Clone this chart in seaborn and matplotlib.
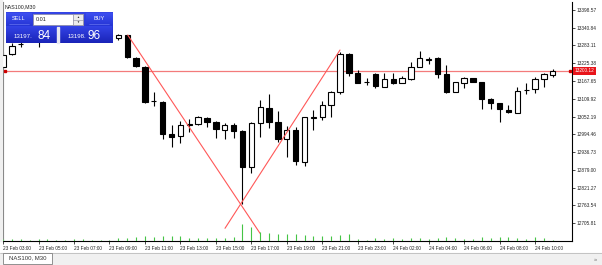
import matplotlib
matplotlib.use("Agg")
import matplotlib.pyplot as plt
import matplotlib.transforms as mtransforms
import seaborn as sns
import numpy as np
import pandas as pd
from matplotlib.patches import Rectangle
from matplotlib.colors import LinearSegmentedColormap

# ---------------- data ----------------
symbol = "NAS100,M30"
tab_label = "NAS100, M30"
bid_price = 13200.12
sell_int, sell_dec = "13197.", "84"
buy_int, buy_dec = "13198.", "96"
lot = "0.01"

opens = [13212.7, 13254.9, 13286.0, 13300.3, 13306.8, 13313.0, 13322.0, 13330.0, 13325.0, 13318.0,
         13328.0, 13322.0, 13316.0, 13305.2, 13316.5, 13242.9, 13213.7, 13102.5, 13100.2, 12994.5,
         12988.9, 13026.0, 13027.9, 13046.4, 13035.3, 13008.4, 13025.6, 13006.1, 12886.8, 13032.7,
         13079.1, 13035.0, 12978.3, 13008.4, 12905.6, 13048.0, 13049.6, 13090.5, 13132.6, 13254.9,
         13194.3, 13164.5, 13189.1, 13148.9, 13174.8, 13161.8, 13172.9, 13213.7, 13237.0, 13241.0,
         13189.1, 13132.6, 13161.8, 13176.1, 13165.1, 13108.0, 13095.0, 13073.3, 13064.5, 13138.6,
         13140.4, 13173.8, 13186.8]
highs = [13261.4, 13290.6, 13300.3, 13316.5, 13326.3, 13330.0, 13338.0, 13345.0, 13335.0, 13332.0,
         13340.0, 13333.0, 13326.0, 13319.8, 13318.1, 13246.1, 13216.0, 13132.6, 13103.4, 13024.6,
         13038.6, 13043.1, 13053.8, 13049.6, 13038.6, 13030.1, 13030.1, 13008.4, 13035.3, 13105.7,
         13125.2, 13069.1, 13021.4, 13019.1, 13051.5, 13071.7, 13102.5, 13134.9, 13262.4, 13259.1,
         13203.0, 13176.1, 13194.3, 13194.3, 13194.3, 13183.6, 13229.9, 13265.6, 13244.2, 13244.2,
         13219.2, 13165.1, 13181.3, 13178.0, 13165.1, 13111.2, 13097.0, 13089.5, 13148.9, 13161.8,
         13181.3, 13192.3, 13205.3]
lows = [13206.3, 13251.7, 13279.2, 13293.8, 13277.6, 13300.0, 13312.0, 13320.0, 13310.0, 13308.0,
        13318.0, 13312.0, 13305.0, 13301.9, 13241.0, 13211.8, 13096.9, 13086.3, 12978.3, 12952.3,
        12965.3, 13002.9, 13024.6, 13019.1, 12981.5, 12978.3, 12981.5, 12768.4, 12869.9, 12985.7,
        13016.5, 12969.5, 12921.8, 12894.9, 12891.7, 13008.4, 13040.8, 13050.6, 13125.2, 13184.5,
        13159.9, 13154.4, 13143.7, 13146.9, 13157.6, 13159.9, 13170.6, 13211.8, 13221.5, 13178.0,
        13129.4, 13130.7, 13143.7, 13163.1, 13076.5, 13075.6, 13035.3, 13062.6, 13062.6, 13125.2,
        13127.4, 13146.9, 13179.3]
closes = [13251.7, 13281.8, 13288.0, 13306.8, 13313.3, 13322.0, 13330.0, 13325.0, 13318.0, 13328.0,
          13322.0, 13316.0, 13312.0, 13316.5, 13244.2, 13216.0, 13100.2, 13101.5, 12995.4, 12986.7,
          13024.6, 13027.9, 13050.6, 13033.4, 13010.7, 13025.6, 13006.1, 12889.4, 13032.1, 13082.0,
          13033.7, 12979.2, 13009.4, 12907.9, 13049.6, 13050.0, 13090.5, 13132.6, 13254.9, 13192.3,
          13161.8, 13165.5, 13151.1, 13172.9, 13161.8, 13176.1, 13213.7, 13241.0, 13238.5, 13189.1,
          13132.6, 13163.1, 13176.1, 13165.1, 13108.0, 13097.0, 13075.6, 13067.8, 13135.9, 13137.6,
          13172.9, 13189.1, 13200.12]
volumes = [240, 280, 200, 160, 240, 200, 160, 160, 240, 200,
           160, 160, 160, 400, 400, 480, 560, 520, 600, 600,
           560, 400, 320, 400, 400, 400, 480, 2080, 1680, 1080,
           960, 800, 800, 800, 680, 640, 640, 640, 720, 800,
           200, 160, 320, 240, 320, 280, 400, 400, 280, 360,
           440, 360, 280, 200, 440, 320, 440, 440, 360, 280,
           480, 360, 160]

x_tick_labels = ["23 Feb 03:00", "23 Feb 05:00", "23 Feb 07:00", "23 Feb 09:00", "23 Feb 11:00",
                 "23 Feb 13:00", "23 Feb 15:00", "23 Feb 17:00", "23 Feb 19:00", "23 Feb 21:00",
                 "23 Feb 23:00", "24 Feb 02:00", "24 Feb 04:00", "24 Feb 06:00", "24 Feb 08:00",
                 "24 Feb 10:00"]
price_ticks = [12705.81, 12763.54, 12821.27, 12879.00, 12936.73, 12994.46, 13052.19,
               13109.92, 13167.65, 13225.38, 13283.11, 13340.84, 13398.57]

trend1_x = [14.06, 28.98]
trend1_y = [13316.5, 12673.4]
trend2_x = [25.03, 38.0]
trend2_y = [12689.6, 13267.8]

# ---------------- style ----------------
sns.set_theme(style="white")
plt.rcParams['font.family'] = ['Liberation Sans', 'DejaVu Sans']

W, H = 602, 265
fig = plt.figure(figsize=(W / 100, H / 100), dpi=100)
fig.patch.set_facecolor('white')
ax = fig.add_axes([3 / W, 24 / H, 569 / W, 239 / H])
ax.set_facecolor('white')

n = len(opens)
df = pd.DataFrame(dict(i=np.arange(n), o=opens, h=highs, l=lows, c=closes, v=volumes))

# volumes (own scale at the bottom)
axv = ax.twinx()
axv.vlines(df.i, 0, df.v, color='#45c445', lw=0.8)
axv.set_ylim(0, 28680)
axv.set_axis_off()

# candles
ax.vlines(df.i, df.l, df.h, color='black', lw=0.8, zorder=2)
for r in df.itertuples():
    lo, hi = min(r.o, r.c), max(r.o, r.c)
    bull = r.c >= r.o
    ax.add_patch(Rectangle((r.i - 0.3, lo), 0.6, max(hi - lo, 0.01),
                           facecolor='white' if bull else 'black',
                           edgecolor='black', lw=0.8, zorder=3))

# trend lines
sns.lineplot(x=trend1_x, y=trend1_y, ax=ax, color='#ff5858', lw=0.8, zorder=4)
sns.lineplot(x=trend2_x, y=trend2_y, ax=ax, color='#ff5858', lw=0.8, zorder=4)

# bid line
ax.axhline(bid_price, color='#f37b7b', lw=0.9, zorder=1)
blend = mtransforms.blended_transform_factory(ax.transAxes, ax.transData)
ax.plot([0.003, 0.997], [bid_price, bid_price], 's', ms=1.6, color='#cc0000',
        transform=blend, clip_on=False, zorder=5)
ax.text(1.0045, bid_price, f"{bid_price:.2f}", transform=blend, fontsize=3.4,
        color='white', va='center', ha='left', clip_on=False, zorder=6,
        bbox=dict(boxstyle='square,pad=0.35', fc='#e8141a', ec='none'))

ax.set_xlim(-0.0113, 64.17)
ax.set_ylim(12648.4, 13423.55)

ax.set_xticks(range(0, 4 * len(x_tick_labels), 4))
ax.set_xticklabels(x_tick_labels, ha='left', fontsize=3.4)
ax.yaxis.tick_right()
ax.set_yticks(price_ticks)
ax.set_yticklabels([f"{p:.2f}" for p in price_ticks], fontsize=3.4)
ax.tick_params(axis='x', bottom=True, direction='out', length=2.5, width=0.5,
               color='black', pad=0.8, labelcolor='#222222')
ax.tick_params(axis='y', right=True, left=False, labelright=True, labelleft=False,
               direction='out', length=2.5, width=0.5, color='black', pad=0.8,
               labelcolor='#222222')
ax.set_xlabel('')
ax.set_ylabel('')
ax.spines['top'].set_visible(False)
ax.spines['left'].set_color('#707070')
ax.spines['left'].set_linewidth(0.8)
for s in ('bottom', 'right'):
    ax.spines[s].set_color('black')
    ax.spines[s].set_linewidth(0.8)
if ax.get_legend():
    ax.get_legend().remove()

# ---------------- overlay (terminal UI) ----------------
ov = fig.add_axes([0, 0, 1, 1], zorder=10)
ov.set_axis_off()
ov.patch.set_alpha(0)


def grad(x0, y0, x1, y1, c_top, c_bot, z=1):
    cmap = LinearSegmentedColormap.from_list('g', [c_top, c_bot])
    ov.imshow(np.linspace(0, 1, 32).reshape(-1, 1), extent=(x0, x1, y1, y0),
              cmap=cmap, aspect='auto', zorder=z, interpolation='bilinear')


ov.add_patch(Rectangle((0, 0), 2.4, 241, color='#f0f0f0', zorder=1))
ov.add_patch(Rectangle((0, 252.5), 602, 12.5, color='#f0f0f0', zorder=1))
ov.plot([0, 602], [252.5, 252.5], color='#b0b0b0', lw=0.5, zorder=2)
ov.add_patch(Rectangle((3, 252.5), 49, 11, facecolor='white', edgecolor='#808080', lw=0.6, zorder=3))
ov.text(27.5, 258, tab_label, ha='center', va='center', fontsize=4.3, color='#333333', zorder=4)
ov.text(595, 259.5, "»", ha='center', va='center', fontsize=4, color='#666666', zorder=4)

ov.text(4.5, 7, symbol, fontsize=3.8, va='center', ha='left', color='#222222', zorder=4)

# one-click trading panel
grad(5.7, 12.7, 112, 43.3, '#3545e6', '#1d28c0', z=2)
grad(6, 13, 31.7, 26, '#3d4ef0', '#2535d4', z=3)
grad(85.7, 13, 112, 26, '#3d4ef0', '#2535d4', z=3)
ov.add_patch(Rectangle((32.7, 14), 50.6, 11.3, facecolor='white', edgecolor='#8a8aa0', lw=0.5, zorder=4))
ov.add_patch(Rectangle((72.7, 14), 10.6, 11.3, facecolor='#ececec', edgecolor='#8a8aa0', lw=0.5, zorder=5))
ov.plot([72.7, 83.3], [19.65, 19.65], color='#8a8aa0', lw=0.4, zorder=6)
ov.text(78, 16.9, "▲", fontsize=2.2, ha='center', va='center', color='#333333', zorder=6)
ov.text(78, 22.4, "▼", fontsize=2.2, ha='center', va='center', color='#333333', zorder=6)
ov.text(35.5, 19.8, lot, fontsize=4, ha='left', va='center', color='#222222', zorder=6)
ov.text(18.8, 18.6, "SELL", fontsize=4, ha='center', va='center', color='white', zorder=6)
ov.text(98.8, 18.6, "BUY", fontsize=4, ha='center', va='center', color='white', zorder=6)
ov.plot([9, 28.5], [24.4, 24.4], color='#7582f5', lw=0.4, zorder=6)
ov.plot([89, 108.5], [24.4, 24.4], color='#7582f5', lw=0.4, zorder=6)
grad(5.7, 26.7, 57.3, 43.3, '#3343e6', '#1a24b8', z=3)
grad(59.3, 26.7, 112, 43.3, '#3343e6', '#1a24b8', z=3)
ov.add_patch(Rectangle((57.3, 26.7), 2.0, 16.6, color='#e8e8f0', zorder=3))
ov.text(13.5, 38.4, sell_int, fontsize=4.4, ha='left', va='baseline', color='white', zorder=6)
ov.text(37.8, 39.4, sell_dec, fontsize=8.5, ha='left', va='baseline', color='white', zorder=6)
ov.text(67.8, 38.4, buy_int, fontsize=4.4, ha='left', va='baseline', color='white', zorder=6)
ov.text(87.0, 39.4, buy_dec, fontsize=8.5, ha='left', va='baseline', color='white', zorder=6)

ov.set_xlim(0, W)
ov.set_ylim(H, 0)

fig.savefig("out.png", dpi=100, facecolor='white')
